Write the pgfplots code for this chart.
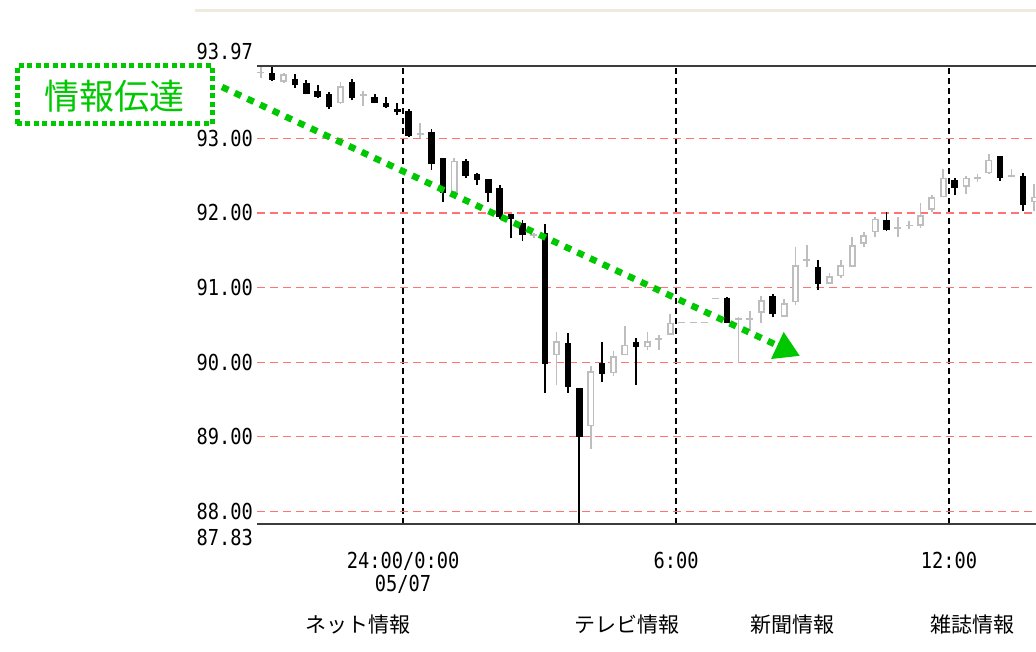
\documentclass[border=0pt]{standalone}
\usepackage{pgfplots}
\pgfplotsset{compat=1.18}
\usepackage{pgfplotstable}
\usepackage{fontspec}
\usetikzlibrary{arrows.meta}
\setmainfont{Liberation Sans}
\newfontfamily\jp{Noto Sans CJK JP}
\newfontfamily\tickfont[FakeStretch=0.85]{DejaVu Sans Mono}

\definecolor{candlegray}{RGB}{190,190,190}
\definecolor{gridred}{RGB}{255,115,115}
\definecolor{axisgray}{RGB}{60,60,60}
\definecolor{annogreen}{RGB}{0,200,0}
\definecolor{beige}{RGB}{238,235,220}

% 15-minute candles, i = slot after 0:00 (05/07)
% falling candles (close < open), drawn black
\pgfplotstableread{
i    o      h      l      c
-12  93.87  93.95  93.77  93.78
-10  93.79  93.86  93.68  93.71
-9   93.74  93.78  93.59  93.60
-8   93.63  93.71  93.54  93.56
-7   93.59  93.62  93.39  93.42
-5   93.75  93.79  93.51  93.54
-3   93.56  93.60  93.47  93.48
-2   93.48  93.55  93.41  93.42
-1   93.40  93.47  93.31  93.35
0    93.36  93.39  93.02  93.03
2    93.08  93.12  92.57  92.65
3    92.73  92.74  92.15  92.27
5    92.69  92.72  92.47  92.50
6    92.52  92.53  92.38  92.44
7    92.45  92.46  92.15  92.27
8    92.33  92.37  91.92  91.95
9    91.98  91.99  91.67  91.92
10   91.86  91.91  91.62  91.70
12   91.73  91.85  89.58  89.97
14   90.26  90.39  89.59  89.67
15   89.65  89.65  87.60  89.00
17   89.99  90.27  89.74  89.84
20   90.27  90.32  89.70  90.20
28   90.86  90.87  90.52  90.53
32   90.88  90.92  90.61  90.64
36   91.27  91.37  90.97  91.05
42   91.90  92.01  91.76  91.77
48   92.44  92.47  92.24  92.33
52   92.76  92.77  92.43  92.47
54   92.49  92.54  92.02  92.11
}\down

% rising or flat candles, drawn grey and hollow
\pgfplotstableread{
i    o      h      l      c
-13  93.870 93.95  93.81  93.895
-11  93.76  93.88  93.74  93.86
-6   93.47  93.75  93.46  93.70
-4   93.570 93.63  93.44  93.595
1    93.040 93.20  93.01  93.065
4    92.27  92.74  92.23  92.70
11   91.690 91.73  91.66  91.715
13   90.09  90.40  89.70  90.28
16   89.14  89.95  88.84  89.88
18   89.85  90.15  89.81  90.08
19   90.09  90.48  90.09  90.23
21   90.20  90.41  90.16  90.28
22   90.300 90.36  90.16  90.325
23   90.37  90.65  90.37  90.53
24   90.520 90.54  90.52  90.540
25   90.520 90.54  90.52  90.540
26   90.520 90.54  90.52  90.540
27   90.840 90.86  90.84  90.860
29   90.560 90.60  89.99  90.585
30   90.560 90.68  90.42  90.585
31   90.66  90.89  90.53  90.83
33   90.61  90.85  90.60  90.79
34   90.80  91.55  90.77  91.30
35   91.360 91.57  91.27  91.385
37   91.05  91.20  91.05  91.15
38   91.15  91.37  91.13  91.30
39   91.28  91.68  91.28  91.57
40   91.59  91.75  91.55  91.70
41   91.74  91.95  91.68  91.92
43   91.790 91.94  91.68  91.815
44   91.820 91.89  91.79  91.845
45   91.83  92.13  91.80  91.97
46   92.04  92.24  92.01  92.21
47   92.21  92.59  92.21  92.47
49   92.35  92.50  92.26  92.47
50   92.460 92.52  92.41  92.485
51   92.53  92.79  92.52  92.71
53   92.480 92.59  92.48  92.505
55   92.14  92.39  92.02  92.22
}\up

\pgfplotsset{
  candle/.style 2 args={draw=none, no markers, forget plot,
    error bars/.cd, y dir=plus, y explicit, error mark=none,
    error bar style={solid, draw=#1, line width=#2}},
}

\begin{document}
\begin{tikzpicture}
\useasboundingbox (0,0) rectangle (1036pt,652pt);
\draw[beige, line width=3pt] (195pt,641pt) -- (1036pt,641pt);

\begin{axis}[
    at={(257pt,128pt)}, anchor=south west,
    scale only axis,
    width=779pt, height=458pt,
    xmin=-12.84, xmax=55.65,
    ymin=87.83, ymax=93.97,
    clip mode=individual,
    axis line style={draw=none},
    major tick length=0pt,
    xtick={0,24,48},
    xticklabels={{24:00/0:00\\05/07},{6:00},{12:00}},
    ytick={88,89,90,91,92,93},
    yticklabels={88.00,89.00,90.00,91.00,92.00,93.00},
    xmajorgrids, ymajorgrids,
    major x grid style={black, line width=1.5pt, dash pattern=on 6pt off 4pt},
    major y grid style={gridred, line width=1.2pt, dash pattern=on 8pt off 5pt},
    ticklabel style={font=\tickfont\fontsize{22}{23}\selectfont, inner sep=0pt},
    yticklabel style={anchor=east, xshift=-4pt},
    xticklabel style={anchor=north, align=center, yshift=-28pt},
]
% wicks
\addplot[candle={candlegray}{1.8pt}]
    table[x expr=\thisrow{i}+0.5, y=l, y error expr=\thisrow{h}-\thisrow{l}] {\up};
\addplot[candle={black}{1.8pt}]
    table[x expr=\thisrow{i}+0.5, y=l, y error expr=\thisrow{h}-\thisrow{l}] {\down};
% bodies
\addplot[candle={black}{6.5pt}]
    table[x expr=\thisrow{i}+0.5, y=c, y error expr=\thisrow{o}-\thisrow{c}] {\down};
\addplot[candle={candlegray}{7pt}]
    table[x expr=\thisrow{i}+0.5, y=o, y error expr=\thisrow{c}-\thisrow{o}] {\up};
\addplot[candle={white}{3.6pt}]
    table[x expr=\thisrow{i}+0.5, y expr=\thisrow{o}+0.02,
          y error expr={max(\thisrow{c}-\thisrow{o}-0.04,0)}] {\up};

\draw[axisgray, line width=2pt] (rel axis cs:0,0) -- (rel axis cs:1,0);
\draw[axisgray, line width=2pt] (rel axis cs:0,1) -- (rel axis cs:1,1);
\node[font=\tickfont\fontsize{22}{23}\selectfont, inner sep=0pt, anchor=south east]
    at ([xshift=-4pt,yshift=6pt]rel axis cs:0,1) {93.97};
\node[font=\tickfont\fontsize{22}{23}\selectfont, inner sep=0pt, anchor=north east]
    at ([xshift=-4pt,yshift=-5pt]rel axis cs:0,0) {87.83};
\end{axis}

% annotation
\draw[annogreen, line width=5pt, dash pattern=on 5pt off 3.5pt]
    (17pt,528pt) rectangle (212pt,586pt);
\node[annogreen, font=\jp\fontsize{35}{35}\selectfont] at (114pt,556pt) {情報伝達};
\draw[annogreen, line width=6.5pt, dash pattern=on 7pt off 7pt,
    -{Triangle[length=25pt,width=28pt]}] (222pt,565pt) -- (800pt,296pt);

\begin{scope}[font=\jp\fontsize{21}{21}\selectfont]
\node at (358pt,27pt) {ネット情報};
\node at (627pt,27pt) {テレビ情報};
\node at (792pt,27pt) {新聞情報};
\node at (972pt,27pt) {雑誌情報};
\end{scope}
\end{tikzpicture}
\end{document}
